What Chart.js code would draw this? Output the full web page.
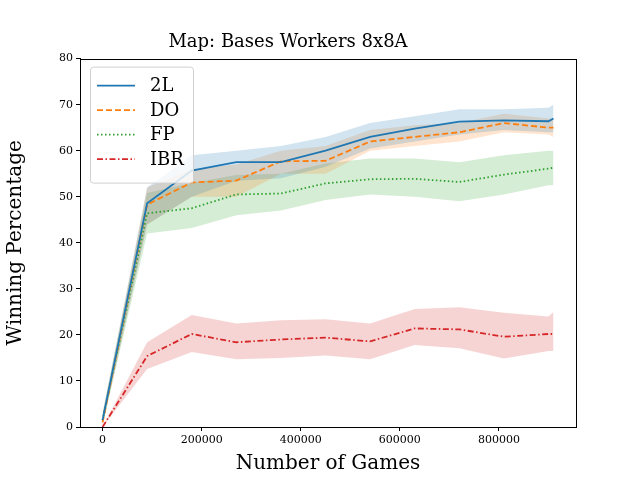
<!DOCTYPE html>
<html>
<head>
<meta charset="utf-8">
<script src="https://cdn.jsdelivr.net/npm/chart.js@4.4.0/dist/chart.umd.min.js"></script>
<style>
  html, body { margin: 0; padding: 0; background: #fff; }
  #wrap { width: 640px; height: 480px; }
</style>
</head>
<body>
<div id="wrap"><canvas id="c" width="640" height="480"></canvas></div>
<script>
// dados
var games = [0, 90000, 180000, 270000, 360000, 450000, 540000, 630000, 720000, 810000, 900000, 910000];

var l2Mean = [1.5, 48.6, 55.7, 57.5, 57.5, 60.0, 63.0, 64.8, 66.3, 66.6, 66.4, 67.0];
var l2Low  = [0.5, 44.0, 50.0, 53.5, 54.0, 56.5, 60.5, 62.0, 63.5, 64.5, 64.0, 64.0];
var l2High = [3.0, 52.0, 59.0, 60.0, 61.0, 63.0, 66.0, 67.5, 69.0, 69.0, 69.3, 70.0];

var doMean = [1.0, 48.3, 53.1, 53.5, 57.7, 57.8, 62.0, 63.0, 64.0, 66.0, 65.0, 65.0];
var doLow  = [0.2, 44.0, 50.0, 50.0, 55.0, 55.0, 60.0, 61.0, 62.0, 64.0, 63.5, 63.0];
var doHigh = [2.5, 52.0, 56.0, 57.0, 60.0, 61.0, 64.5, 65.5, 66.0, 68.0, 67.0, 67.0];

var fpMean = [1.5, 46.4, 47.5, 50.5, 50.7, 52.9, 53.8, 53.9, 53.2, 54.8, 56.1, 56.3];
var fpLow  = [0.3, 42.0, 43.2, 46.0, 47.0, 49.3, 50.5, 50.0, 49.0, 50.5, 52.5, 52.5];
var fpHigh = [3.0, 50.8, 53.0, 54.7, 55.0, 57.2, 58.3, 58.3, 57.5, 59.0, 60.0, 60.0];

var ibrMean = [0, 15.4, 20.2, 18.4, 19.0, 19.4, 18.6, 21.4, 21.2, 19.6, 20.2, 20.2];
var ibrLow  = [0, 12.6, 16.3, 14.7, 15.0, 15.5, 14.7, 17.8, 17.1, 14.9, 16.5, 16.5];
var ibrHigh = [0, 18.4, 24.3, 22.5, 23.2, 23.4, 22.5, 25.6, 26.0, 24.8, 24.0, 25.0];

var xTicks = [0, 200000, 400000, 600000, 800000];
var yTicks = [0, 10, 20, 30, 40, 50, 60, 70, 80];

var series = [
  { name: '2L',  color: '31,119,180', mean: l2Mean,  low: l2Low,  high: l2High,  dash: [] },
  { name: 'DO',  color: '255,127,14', mean: doMean,  low: doLow,  high: doHigh,  dash: [6, 3] },
  { name: 'FP',  color: '44,160,44',  mean: fpMean,  low: fpLow,  high: fpHigh,  dash: [1.5, 2.5] },
  { name: 'IBR', color: '214,39,40',  mean: ibrMean, low: ibrLow, high: ibrHigh, dash: [6, 2.5, 1.5, 2.5] }
];

var SERIF = "'DejaVu Serif', 'Liberation Serif', serif";

function pts(arr) {
  return arr.map(function(v, i) { return { x: games[i], y: v }; });
}

var datasets = [];
series.forEach(function(s) {
  var idx = datasets.length;
  datasets.push({ data: pts(s.low), borderWidth: 0, pointRadius: 0, fill: false, order: 2 });
  datasets.push({ data: pts(s.high), borderWidth: 0, pointRadius: 0,
    fill: { target: idx }, backgroundColor: 'rgba(' + s.color + ',0.2)', order: 2 });
});
series.forEach(function(s) {
  datasets.push({ data: pts(s.mean), borderColor: 'rgb(' + s.color + ')', borderWidth: 1.8,
    borderDash: s.dash, pointRadius: 0, fill: false, order: 1 });
});

// moldura + legenda dentro do gráfico, estilo matplotlib
var legendBox = {
  id: 'legendBox',
  afterDraw: function(chart) {
    var ctx = chart.ctx;
    var a = chart.chartArea;
    ctx.save();
    ctx.strokeStyle = '#000';
    ctx.lineWidth = 1;
    ctx.strokeRect(Math.round(a.left) + 0.5, Math.round(a.top) + 0.5,
      Math.round(a.right - a.left), Math.round(a.bottom - a.top));
    var x = a.left + 10, y = a.top + 8, w = 103, h = 116;
    ctx.fillStyle = 'rgba(255,255,255,0.8)';
    ctx.strokeStyle = '#d0d0d0';
    ctx.beginPath();
    ctx.roundRect(x + 0.5, y + 0.5, w, h, 3);
    ctx.fill(); ctx.stroke();
    ctx.font = '18px ' + SERIF;
    ctx.textBaseline = 'middle';
    series.forEach(function(s, i) {
      var ly = y + 19 + i * 24.5;
      ctx.strokeStyle = 'rgb(' + s.color + ')';
      ctx.lineWidth = 1.8;
      ctx.setLineDash(s.dash);
      ctx.beginPath(); ctx.moveTo(x + 7, ly); ctx.lineTo(x + 45, ly); ctx.stroke();
      ctx.setLineDash([]);
      ctx.fillStyle = '#000';
      ctx.fillText(s.name, x + 60, ly + 1);
    });
    ctx.restore();
  }
};

new Chart(document.getElementById('c'), {
  type: 'line',
  data: { datasets: datasets },
  plugins: [legendBox],
  options: {
    responsive: false, animation: false,
    layout: { padding: { top: 0, right: 64, bottom: 0, left: 0 } },
    plugins: {
      legend: { display: false },
      tooltip: { enabled: false },
      title: { display: true, text: 'Map: Bases Workers 8x8A', color: '#000',
        font: { family: SERIF, size: 18, weight: 'normal' }, padding: { top: 32, bottom: 5 } }
    },
    scales: {
      x: {
        type: 'linear', min: -45500, max: 955500,
        afterBuildTicks: function(sc) { sc.ticks = xTicks.map(function(v) { return { value: v }; }); },
        grid: { display: true, drawOnChartArea: false, drawTicks: true, tickLength: 4, color: '#000' },
        border: { color: '#000', width: 1 },
        ticks: { color: '#000', font: { family: SERIF, size: 11 }, maxRotation: 0,
          callback: function(v) { return String(v); } },
        title: { display: true, text: 'Number of Games', color: '#000',
          font: { family: SERIF, size: 20 }, padding: { top: 2 } },
        afterFit: function(sc) { sc.height = 53; }
      },
      y: {
        min: 0, max: 80,
        afterBuildTicks: function(sc) { sc.ticks = yTicks.map(function(v) { return { value: v }; }); },
        grid: { display: true, drawOnChartArea: false, drawTicks: true, tickLength: 4, color: '#000' },
        border: { color: '#000', width: 1 },
        ticks: { color: '#000', font: { family: SERIF, size: 11 } },
        title: { display: true, text: 'Winning Percentage', color: '#000',
          font: { family: SERIF, size: 20 } },
        afterFit: function(sc) { sc.width = 80; }
      }
    }
  }
});
</script>
</body>
</html>
